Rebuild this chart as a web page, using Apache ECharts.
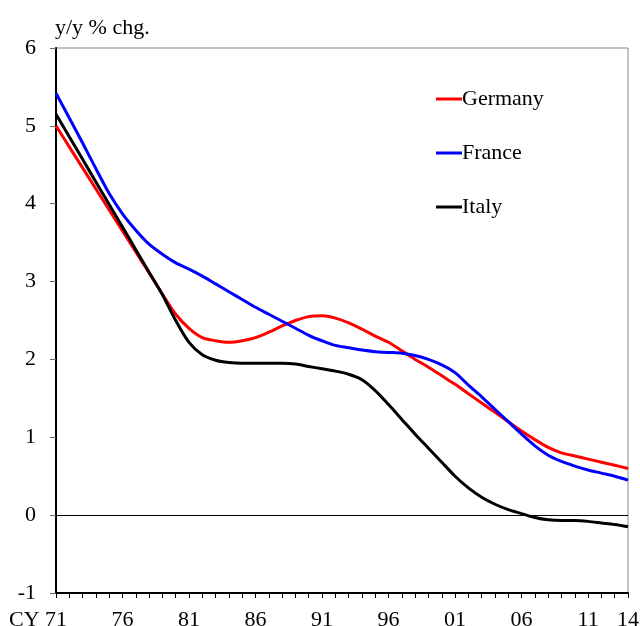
<!DOCTYPE html>
<html>
<head>
<meta charset="utf-8">
<script src="https://cdn.jsdelivr.net/npm/echarts@6/dist/echarts.min.js"></script>
<style>
  html, body { margin: 0; padding: 0; background: #fff; }
  #chart { width: 640px; height: 626px; }
</style>
</head>
<body>
<div id="chart"></div>
<script>
// calendar years 1971..2014
const years = [];
for (let y = 1971; y <= 2014; y++) years.push(y);

const germany = [5.00, 4.73, 4.46, 4.19, 3.92, 3.65, 3.38, 3.11, 2.84, 2.58,
  2.40, 2.28, 2.24, 2.22, 2.24, 2.28, 2.35, 2.43, 2.50, 2.55,
  2.56, 2.53, 2.47, 2.39, 2.30, 2.22, 2.11, 2.00, 1.90, 1.79,
  1.68, 1.56, 1.44, 1.32, 1.20, 1.08, 0.97, 0.87, 0.80, 0.76,
  0.72, 0.68, 0.64, 0.60];

const france = [5.42, 5.10, 4.78, 4.45, 4.13, 3.87, 3.66, 3.48, 3.35, 3.24,
  3.16, 3.07, 2.97, 2.87, 2.77, 2.67, 2.58, 2.49, 2.40, 2.31,
  2.24, 2.18, 2.15, 2.12, 2.10, 2.09, 2.08, 2.05, 2.00, 1.93,
  1.83, 1.67, 1.52, 1.36, 1.20, 1.04, 0.89, 0.77, 0.69, 0.63,
  0.58, 0.54, 0.50, 0.45];

const italy = [5.15, 4.86, 4.57, 4.28, 3.99, 3.70, 3.41, 3.12, 2.83, 2.50,
  2.22, 2.06, 1.99, 1.96, 1.95, 1.95, 1.95, 1.95, 1.94, 1.91,
  1.88, 1.85, 1.81, 1.74, 1.60, 1.42, 1.23, 1.04, 0.86, 0.68,
  0.50, 0.35, 0.23, 0.14, 0.07, 0.02, -0.03, -0.06, -0.07, -0.07,
  -0.08, -0.10, -0.12, -0.15];

// years that get a label on the x axis
const labelYears = [1971, 1976, 1981, 1986, 1991, 1996, 2001, 2006, 2011, 2014];

const font = "'Liberation Serif', 'Times New Roman', serif";

function pairs(vals) {
  return years.map((y, i) => [y, vals[i]]);
}

const chart = echarts.init(document.getElementById("chart"));

chart.setOption({
  animation: false,
  textStyle: { fontFamily: font },
  title: {
    text: "y/y % chg.",
    left: 50,
    top: 12,
    textStyle: { fontFamily: font, fontSize: 22, fontWeight: "normal", color: "#000" }
  },
  legend: {
    orient: "vertical",
    left: 436,
    top: 88,
    padding: 0,
    itemGap: 32,
    itemWidth: 26,
    itemHeight: 3,
    icon: "rect",
    textStyle: { fontFamily: font, fontSize: 22, color: "#000", padding: [0, 0, 0, -5] },
    data: ["Germany", "France", "Italy"]
  },
  grid: {
    left: 56,
    right: 12,
    top: 48,
    bottom: 33,
    outerBoundsMode: "none",
    show: true,
    borderColor: "#888",
    borderWidth: 1
  },
  xAxis: {
    type: "value",
    min: 1971,
    max: 2014,
    interval: 1,
    axisLine: { onZero: false, lineStyle: { color: "#000", width: 2 } },
    axisTick: { show: true, length: 5, lineStyle: { color: "#000", width: 1 } },
    splitLine: { show: false },
    axisLabel: {
      margin: 16,
      fontFamily: font,
      fontSize: 22,
      color: "#000",
      showMinLabel: true,
      showMaxLabel: true,
      hideOverlap: false,
      formatter: function (v) {
        if (labelYears.indexOf(v) < 0) return "";
        const s = String(v).slice(2);
        return v === 1971 ? "{cy|CY " + s + "}" : s;
      },
      rich: {
        cy: { fontFamily: font, fontSize: 22, color: "#000", padding: [0, 36, 0, 0] }
      }
    }
  },
  yAxis: {
    type: "value",
    min: -1,
    max: 6,
    interval: 1,
    axisLine: { show: true, lineStyle: { color: "#000", width: 2 } },
    axisTick: { show: true, length: 6, lineStyle: { color: "#666", width: 1 } },
    splitLine: { show: false },
    axisLabel: { margin: 20, fontFamily: font, fontSize: 22, color: "#000" }
  },
  series: [
    {
      name: "Germany",
      type: "line",
      data: pairs(germany),
      smooth: 0.3,
      showSymbol: false,
      symbol: "none",
      color: "#ff0000",
      lineStyle: { color: "#ff0000", width: 3 },
      z: 3,
      markLine: {
        silent: true,
        symbol: "none",
        label: { show: false },
        lineStyle: { color: "#000", width: 1, type: "solid" },
        data: [{ yAxis: 0 }]
      }
    },
    {
      name: "France",
      type: "line",
      data: pairs(france),
      smooth: 0.3,
      showSymbol: false,
      symbol: "none",
      color: "#0000ff",
      lineStyle: { color: "#0000ff", width: 3 },
      z: 4
    },
    {
      name: "Italy",
      type: "line",
      data: pairs(italy),
      smooth: 0.3,
      showSymbol: false,
      symbol: "none",
      color: "#000000",
      lineStyle: { color: "#000000", width: 3 },
      z: 5
    }
  ]
});
</script>
</body>
</html>
